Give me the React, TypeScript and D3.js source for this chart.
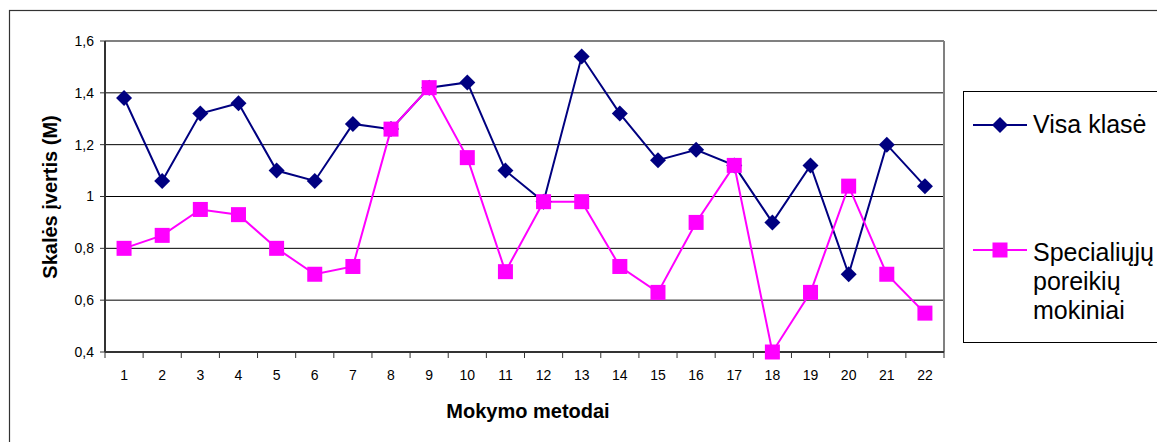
import React from "react";
import * as d3 from "d3";

const categories = ["1","2","3","4","5","6","7","8","9","10","11","12","13","14","15","16","17","18","19","20","21","22"];
const visaKlase = [1.38,1.06,1.32,1.36,1.10,1.06,1.28,1.26,1.42,1.44,1.10,0.98,1.54,1.32,1.14,1.18,1.12,0.90,1.12,0.70,1.20,1.04];
const specialiuju = [0.80,0.85,0.95,0.93,0.80,0.70,0.73,1.26,1.42,1.15,0.71,0.98,0.98,0.73,0.63,0.90,1.12,0.40,0.63,1.04,0.70,0.55];
const yTicks = [0.4,0.6,0.8,1.0,1.2,1.4,1.6];
const seriesNames = ["Visa klasė", "Specialiųjų poreikių mokiniai"];

const W = 1157, H = 442;
const FONT = "'Liberation Sans', Arial, Helvetica, sans-serif";
const NAVY = "#000080";
const MAGENTA = "#FF00FF";

export default function App() {
  const plot = { left: 105, right: 944, top: 41, bottom: 352 };
  const x = d3.scaleBand<string>().domain(categories).range([plot.left, plot.right]);
  const y = d3.scaleLinear().domain([0.4, 1.6]).range([plot.bottom, plot.top]);
  const cx = (c: string) => (x(c) as number) + x.bandwidth() / 2;
  const line = d3.line<number>().x((_, i) => cx(categories[i])).y((v) => y(v));
  const fmt = (v: number) => {
    const s = d3.format("~g")(+v.toFixed(2));
    return s.replace(".", ",");
  };
  const diamond = (px: number, py: number, r: number) =>
    `M${px},${py - r}L${px + r},${py}L${px},${py + r}L${px - r},${py}Z`;
  const sq = 15;

  return (
    <svg width={W} height={H} style={{ position: "absolute", left: 0, top: 0, background: "#fff" }} fontFamily={FONT}>
      <rect x={0} y={0} width={W} height={H} fill="#fff" />
      {/* outer chart border */}
      <rect x={9.5} y={10.5} width={W + 20} height={H + 20} fill="none" stroke="#333" strokeWidth={1.2} />
      {/* gridlines */}
      {yTicks.slice(1, -1).map((t) => (
        <line key={"g" + t} x1={plot.left} x2={plot.right} y1={y(t)} y2={y(t)} stroke="#000" strokeWidth={1} />
      ))}
      {/* plot area border */}
      <line x1={plot.left} x2={plot.right} y1={plot.top} y2={plot.top} stroke="#808080" strokeWidth={2} />
      <line x1={plot.right} x2={plot.right} y1={plot.top} y2={plot.bottom} stroke="#808080" strokeWidth={2} />
      {/* axes */}
      <line x1={plot.left} x2={plot.left} y1={plot.top} y2={plot.bottom} stroke="#333" strokeWidth={2} />
      <line x1={plot.left} x2={plot.right} y1={plot.bottom} y2={plot.bottom} stroke="#333" strokeWidth={2} />
      {yTicks.map((t) => (
        <g key={"yt" + t}>
          <line x1={plot.left - 5} x2={plot.left} y1={y(t)} y2={y(t)} stroke="#333" strokeWidth={1} />
          <text x={94} y={y(t)} dy="0.35em" textAnchor="end" fontSize={14} fill="#000">{fmt(t)}</text>
        </g>
      ))}
      {categories.map((c) => (
        <line key={"xt" + c} x1={(x(c) as number)} x2={(x(c) as number)} y1={plot.bottom} y2={plot.bottom + 6} stroke="#333" strokeWidth={1} />
      ))}
      <line x1={plot.right} x2={plot.right} y1={plot.bottom} y2={plot.bottom + 6} stroke="#333" strokeWidth={1} />
      {categories.map((c) => (
        <text key={"xl" + c} x={cx(c)} y={380} textAnchor="middle" fontSize={14} fill="#000">{c}</text>
      ))}
      {/* axis titles */}
      <text x={528} y={418} textAnchor="middle" fontSize={20} fontWeight="bold" fill="#000">Mokymo metodai</text>
      <text transform={`translate(57,197) rotate(-90)`} textAnchor="middle" fontSize={20} fontWeight="bold" fill="#000">Skalės įvertis (M)</text>
      {/* series */}
      <path d={line(visaKlase) as string} fill="none" stroke={NAVY} strokeWidth={2} />
      <path d={line(specialiuju) as string} fill="none" stroke={MAGENTA} strokeWidth={2} />
      {visaKlase.map((v, i) => (
        <path key={"d" + i} d={diamond(cx(categories[i]), y(v), 8)} fill={NAVY} />
      ))}
      {specialiuju.map((v, i) => (
        <rect key={"s" + i} x={cx(categories[i]) - sq / 2} y={y(v) - sq / 2} width={sq} height={sq} fill={MAGENTA} />
      ))}
      {/* legend */}
      <rect x={963.5} y={91.5} width={260} height={251} fill="#fff" stroke="#000" strokeWidth={1} />
      <line x1={973} x2={1027} y1={125} y2={125} stroke={NAVY} strokeWidth={2} />
      <path d={diamond(1000, 125, 8)} fill={NAVY} />
      <text x={1033} y={133} fontSize={25} fill="#000">{seriesNames[0]}</text>
      <line x1={973} x2={1027} y1={250} y2={250} stroke={MAGENTA} strokeWidth={2} />
      <rect x={1000 - sq / 2} y={250 - sq / 2} width={sq} height={sq} fill={MAGENTA} />
      <text x={1033} y={261} fontSize={25} fill="#000">
        {seriesNames[1].split(" ").map((w, i) => (
          <tspan key={w} x={1033} dy={i === 0 ? 0 : 29}>{w}</tspan>
        ))}
      </text>
    </svg>
  );
}
